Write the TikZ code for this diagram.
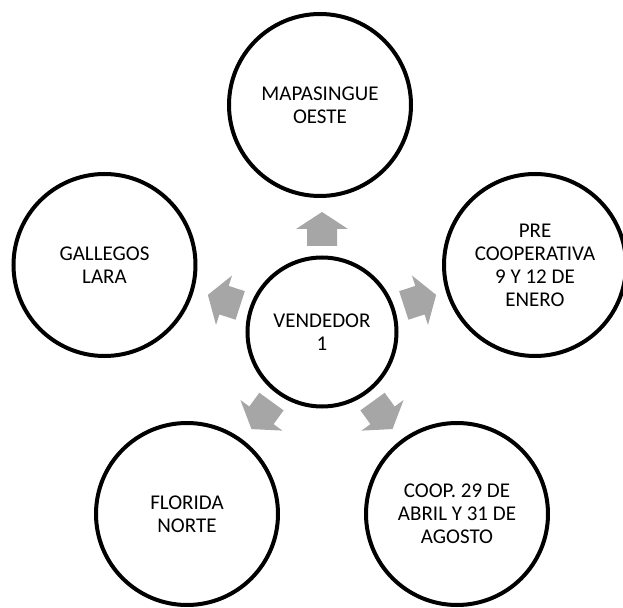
\documentclass[tikz,border=0pt]{standalone}
\usepackage{fontspec}
\setmainfont{Carlito}
\begin{document}
\begin{tikzpicture}[x=1pt,y=1pt,
  hub/.style={circle,draw=black,line width=4pt,fill=white,minimum size=149pt,inner sep=0pt,align=center,font=\fontsize{21}{23}\selectfont},
  spoke/.style={circle,draw=black,line width=4pt,fill=white,minimum size=182pt,inner sep=0pt,align=center,font=\fontsize{21}{23}\selectfont},
  radarrow/.pic={\fill[arrowgray] (86,-15) -- (103,-15) -- (103,-26) -- (120,0) -- (103,26) -- (103,15) -- (86,15) -- cycle;}]
\definecolor{arrowgray}{HTML}{A6A6A6}
\useasboundingbox (-322,-275) rectangle (301,332);
% centre and the five surrounding circles
\node[hub] (c) at (0,0) {VENDEDOR\\1};
\node[spoke] (n1) at (-2,227) {MAPASINGUE\\OESTE};
\node[spoke] (n2) at (213,67) {PRE\\COOPERATIVA\\9 Y 12 DE\\ENERO};
\node[spoke] (n3) at (135,-182) {COOP. 29 DE\\ABRIL Y 31 DE\\AGOSTO};
\node[spoke] (n4) at (-135,-182) {FLORIDA\\NORTE};
\node[spoke] (n5) at (-217.5,67) {GALLEGOS\\LARA};
% block arrows pointing outwards from the centre
\foreach \a in {90,18,-54,-126,162}
  \pic[rotate=\a] at (c) {radarrow};
\end{tikzpicture}
\end{document}
